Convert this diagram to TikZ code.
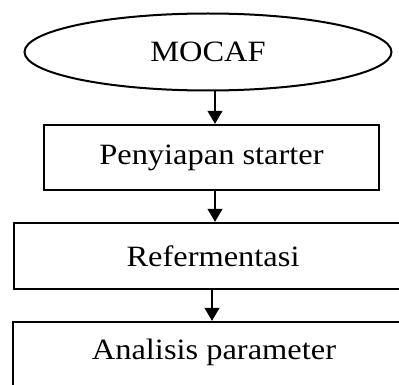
\documentclass[tikz,border=0pt]{standalone}
\usepackage{fontspec}
\setmainfont{Liberation Serif}[FakeStretch=1.1]
\usetikzlibrary{shapes.geometric,arrows.meta}
\tikzset{
  flowbox/.style={draw=black, line width=2.4pt, rectangle, inner sep=0pt, font=\fontsize{29.5}{34}\selectfont},
  startnode/.style={draw=black, line width=2pt, ellipse, inner sep=0pt, minimum width=367pt, minimum height=77pt, font=\fontsize{29.5}{34}\selectfont},
  arr/.style={line width=1.2pt, -{Triangle[width=15pt,length=13pt]}}
}
\begin{document}
\begin{tikzpicture}[x=1pt,y=-1pt]
\clip (0,0) rectangle (399,385);
\fill[white] (0,0) rectangle (399,385);
\node[startnode] (m) at (208,52) {MOCAF};
\node[flowbox, minimum width=335pt, minimum height=65pt] (b1) at (211.5,157.5) {Penyiapan starter};
\node[flowbox, minimum width=398pt, minimum height=66pt] (b2) at (213,256) {Refermentasi};
\node[flowbox, minimum width=400pt, minimum height=66pt] (b3) at (213,355) {};
\node[font=\fontsize{29.5}{34}\selectfont] (t3) at (214,352) {Analisis parameter};
\coordinate (a1) at (215,0);
\coordinate (a3) at (212,0);
\draw[arr] (m.south -| a1) -- (b1.north -| a1);
\draw[arr] (b1.south -| a1) -- (b2.north -| a1);
\draw[arr] (b2.south -| a3) -- (b3.north -| a3);
\end{tikzpicture}
\end{document}
